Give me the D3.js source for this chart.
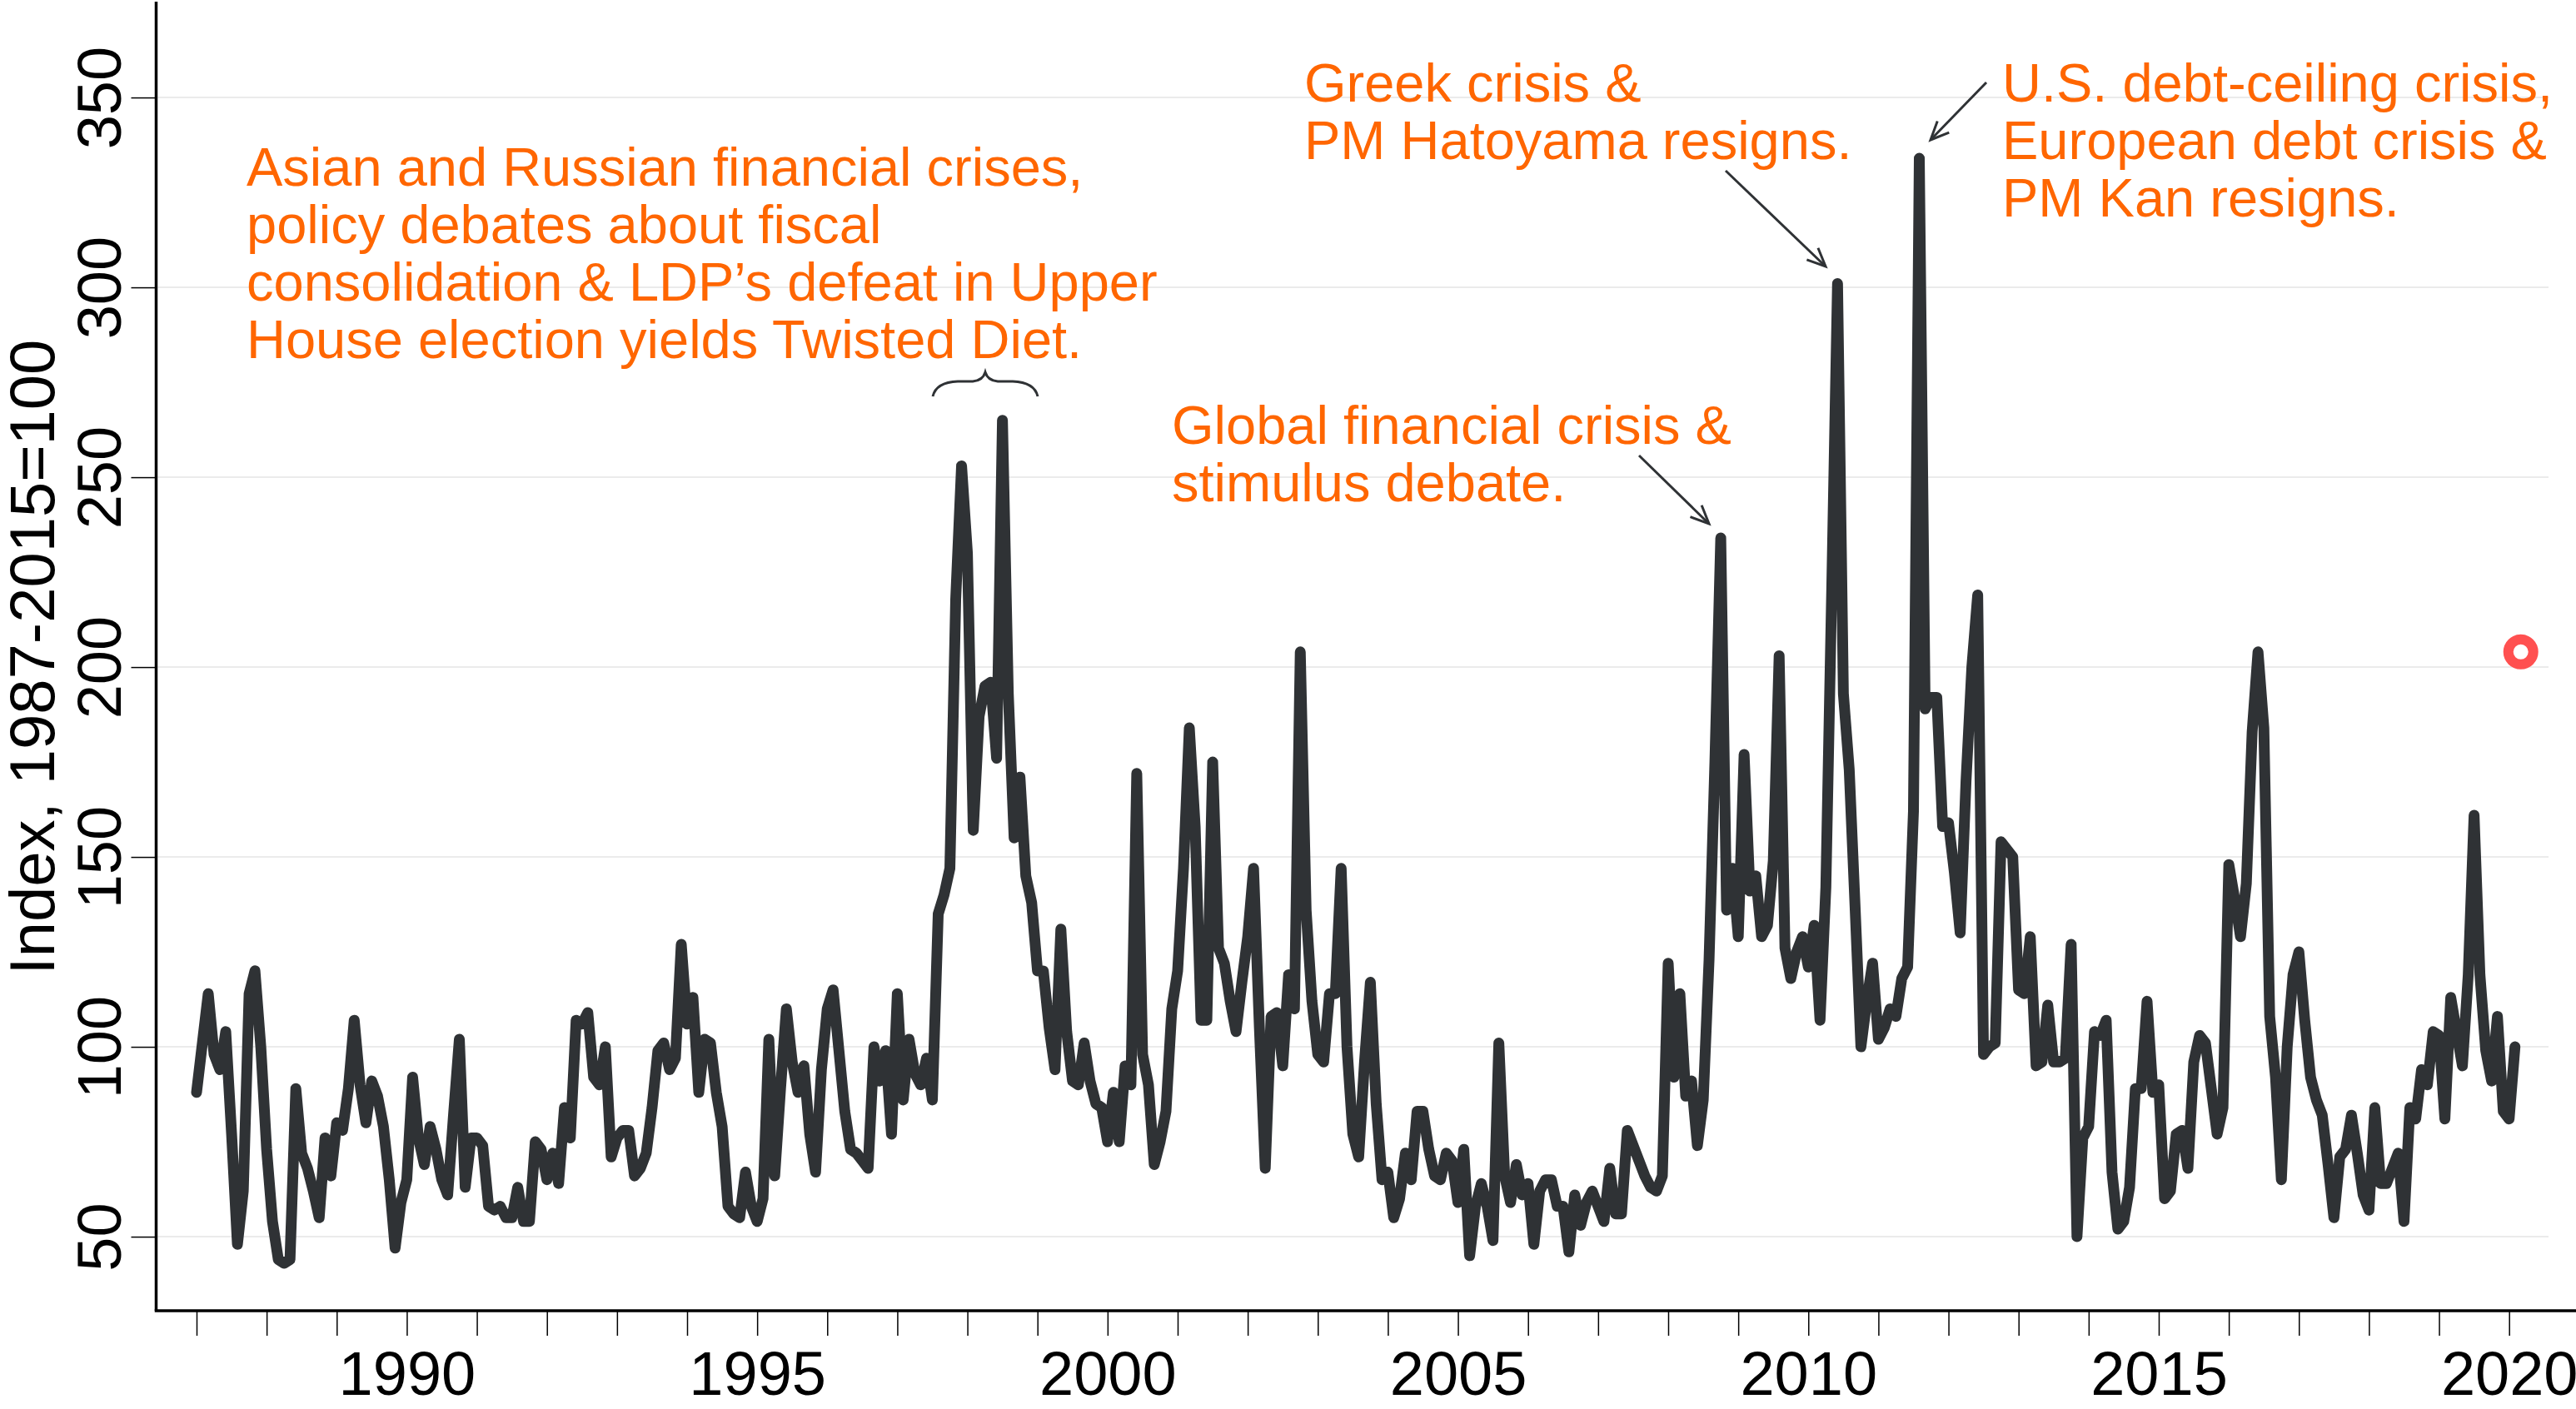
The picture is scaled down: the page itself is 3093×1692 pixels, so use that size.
<!DOCTYPE html>
<html>
<head>
<meta charset="utf-8">
<script src="https://cdn.jsdelivr.net/npm/d3@7"></script>
<style>
  body { margin: 0; background: #fff; }
  svg { display: block; font-family: "Liberation Sans", Arial, sans-serif; }
  .axis text { font-family: "Liberation Sans", Arial, sans-serif; font-size: 74px; fill: #000; }
  .note { font-size: 65px; fill: #ff6600; }
</style>
</head>
<body>
<script>
// monthly policy uncertainty index, one row per year, starting january 1987
var startYear = 1987;
var epu = [
  88, 101, 114, 98, 94, 104, 77, 48, 62, 114, 120, 100,
  73, 54, 44, 43, 44, 89, 72, 68, 62, 55, 76, 66,
  80, 78, 89, 107, 90, 80, 91, 87, 79, 65, 47, 59,
  65, 92, 76, 69, 79, 73, 65, 61, 82, 102, 63, 76,
  76, 74, 58, 57, 58, 55, 55, 63, 54, 54, 75, 73,
  65, 72, 64, 84, 76, 107, 106, 109, 92, 90, 100, 71,
  76, 78, 78, 66, 68, 72, 84, 99, 101, 94, 97, 127,
  106, 113, 88, 102, 101, 88, 79, 58, 56, 55, 67, 58,
  54, 60, 102, 66, 89, 110, 96, 88, 95, 77, 67, 94,
  110, 115, 99, 83, 73, 72, 70, 68, 100, 91, 99, 77,
  114, 86, 102, 93, 90, 97, 86, 135, 140, 147, 218, 253,
  230, 157, 187, 195, 196, 176, 265, 193, 155, 171, 145, 138,
  120, 120, 105, 94, 131, 104, 91, 90, 101, 91, 85, 84,
  75, 88, 75, 95, 90, 172, 98, 90, 69, 75, 83, 110,
  120, 147, 184, 158, 107, 107, 175, 126, 122, 112, 104, 117,
  129, 147, 105, 68, 108, 109, 95, 119, 110, 204, 136, 112,
  98, 96, 114, 114, 147, 100, 77, 71, 96, 117, 85, 65,
  67, 55, 60, 72, 65, 83, 83, 73, 66, 65, 72, 70,
  59, 73, 45, 58, 64, 58, 49, 101, 66, 59, 69, 61,
  64, 48, 62, 65, 65, 58, 58, 46, 61, 53, 59, 62,
  58, 54, 68, 56, 56, 78, 74, 70, 66, 63, 62, 66,
  122, 92, 114, 87, 91, 74, 86, 123, 175, 234, 136, 147,
  129, 177, 141, 145, 129, 132, 149, 203, 126, 118, 125, 129,
  121, 132, 107, 142, 220, 301, 193, 173, 137, 100, 112, 122,
  102, 105, 110, 108, 118, 121, 162, 334, 189, 192, 192, 158,
  159, 146, 130, 170, 200, 219, 98, 100, 101, 154, 152, 150,
  115, 114, 129, 95, 96, 111, 96, 96, 97, 127, 50, 76,
  79, 104, 103, 107, 67, 52, 54, 63, 89, 89, 112, 88,
  90, 60, 62, 77, 78, 68, 96, 103, 101, 89, 77, 84,
  148, 139, 129, 143, 183, 204, 184, 108, 92, 65, 100, 119,
  125, 107, 92, 86, 82, 69, 55, 71, 73, 82, 72, 61,
  57, 84, 64, 64, 68, 72, 54, 84, 81, 94, 90, 104,
  103, 81, 113, 104, 95, 119, 161, 119, 99, 91, 108, 83,
  81, 100
];

// latest reading (march 2020), marked with a ring
var latestDate = 2020 + 2 / 12;
var latestValue = 204;

// axis ticks and labels
var yTicks = [50, 100, 150, 200, 250, 300, 350];
var xTickYears = d3.range(1987, 2021);
var xLabelYears = [1990, 1995, 2000, 2005, 2010, 2015, 2020];
var yTitle = "Index, 1987-2015=100";

// annotation texts
var noteAsia = ["Asian and Russian financial crises,", "policy debates about fiscal",
  "consolidation & LDP\u2019s defeat in Upper", "House election yields Twisted Diet."];
var noteGfc = ["Global financial crisis &", "stimulus debate."];
var noteGreek = ["Greek crisis &", "PM Hatoyama resigns."];
var noteDebt = ["U.S. debt-ceiling crisis,", "European debt crisis &", "PM Kan resigns."];

window.onload = function() {

  // svg characteristics
  var w = 3093;
  var h = 1692;
  var axisX = 187.5;
  var axisY = 1574;
  var lineColor = "#2f3235";

  var svg = d3.select("body")
    .append("svg")
    .attr("width", w)
    .attr("height", h);

  svg.append("rect")
    .attr("width", w)
    .attr("height", h)
    .attr("fill", "#fff");

  // scales
  var x = d3.scaleLinear()
    .domain([1987, 2020])
    .range([236, 3012.7]);

  var y = d3.scaleLinear()
    .domain([30.5, 374.8])
    .range([axisY, 4]);

  // light horizontal grid
  svg.selectAll(".grid")
    .data(yTicks)
    .enter()
    .append("line")
    .attr("class", "grid")
    .attr("x1", axisX + 2)
    .attr("x2", 3060)
    .attr("y1", function(d) { return y(d); })
    .attr("y2", function(d) { return y(d); })
    .attr("stroke", "#ebebeb")
    .attr("stroke-width", 2);

  // the index line
  var series = epu.map(function(v, i) {
    return {date: startYear + i / 12, value: v};
  });

  var line = d3.line()
    .x(function(d) { return x(d.date); })
    .y(function(d) { return y(d.value); });

  svg.append("path")
    .datum(series)
    .attr("d", line)
    .attr("fill", "none")
    .attr("stroke", lineColor)
    .attr("stroke-width", 13)
    .attr("stroke-linejoin", "round")
    .attr("stroke-linecap", "round");

  // latest value ring
  svg.append("circle")
    .attr("cx", x(latestDate))
    .attr("cy", y(latestValue))
    .attr("r", 15)
    .attr("fill", "#fff")
    .attr("stroke", "#ff5050")
    .attr("stroke-width", 12);

  // x axis, a tick every year and a label every five
  var xAxis = d3.axisBottom(x)
    .tickValues(xTickYears)
    .tickSize(30)
    .tickSizeOuter(0)
    .tickFormat(function(d) { return xLabelYears.indexOf(d) >= 0 ? d : ""; });

  var gx = svg.append("g")
    .attr("class", "axis")
    .attr("transform", "translate(0," + axisY + ")")
    .call(xAxis);
  gx.select(".domain").remove();
  gx.selectAll(".tick line").attr("stroke", "#000").attr("stroke-width", 1.5);
  gx.selectAll(".tick text").attr("y", 101).attr("dy", 0);

  // y axis, labels turned upright like the original
  var yAxis = d3.axisLeft(y)
    .tickValues(yTicks)
    .tickSize(30)
    .tickSizeOuter(0);

  var gy = svg.append("g")
    .attr("class", "axis")
    .attr("transform", "translate(" + axisX + ",0)")
    .call(yAxis);
  gy.select(".domain").remove();
  gy.selectAll(".tick line").attr("stroke", "#000").attr("stroke-width", 1.5);
  gy.selectAll(".tick text")
    .attr("x", 0)
    .attr("dy", 0)
    .attr("text-anchor", "middle")
    .attr("transform", "translate(-42.5,0) rotate(-90)");

  // axis lines
  svg.append("line")
    .attr("x1", axisX - 1.75).attr("x2", w)
    .attr("y1", axisY).attr("y2", axisY)
    .attr("stroke", "#000").attr("stroke-width", 3.5);
  svg.append("line")
    .attr("x1", axisX).attr("x2", axisX)
    .attr("y1", 2).attr("y2", axisY)
    .attr("stroke", "#000").attr("stroke-width", 3.5);

  // y axis title
  svg.append("text")
    .attr("transform", "translate(65,789) rotate(-90)")
    .attr("text-anchor", "middle")
    .style("font-size", "76px")
    .attr("fill", "#000")
    .text(yTitle);

  // annotations
  addNote(svg, noteAsia, 296, 223);
  addNote(svg, noteGfc, 1407, 533);
  addNote(svg, noteGreek, 1566, 122);
  addNote(svg, noteDebt, 2404, 122);

  addArrow(svg, 1968, 547, 2052, 629, lineColor);
  addArrow(svg, 2072, 205, 2192, 320, lineColor);
  addArrow(svg, 2385, 99, 2318, 168, lineColor);

  // brace over the 1997-98 peaks
  svg.append("path")
    .attr("d", "M1120,476 Q1124,459 1150,458 L1168,458 Q1180,457 1183,447 " +
               "Q1186,457 1198,458 L1216,458 Q1242,459 1246,476")
    .attr("fill", "none")
    .attr("stroke", lineColor)
    .attr("stroke-width", 3);
};

// multi line orange note
function addNote(svg, lines, x0, y0) {
  var t = svg.append("text")
    .attr("class", "note")
    .attr("x", x0)
    .attr("y", y0);
  lines.forEach(function(s, i) {
    t.append("tspan")
      .attr("x", x0)
      .attr("dy", i === 0 ? 0 : 69)
      .text(s);
  });
}

// thin arrow with an open head
function addArrow(svg, x1, y1, x2, y2, color) {
  var a = Math.atan2(y2 - y1, x2 - x1);
  var len = 24;
  var spread = 0.42;
  svg.append("line")
    .attr("x1", x1).attr("y1", y1)
    .attr("x2", x2).attr("y2", y2)
    .attr("stroke", color)
    .attr("stroke-width", 3);
  svg.append("path")
    .attr("d", "M" + (x2 - len * Math.cos(a - spread)) + "," + (y2 - len * Math.sin(a - spread)) +
               " L" + x2 + "," + y2 +
               " L" + (x2 - len * Math.cos(a + spread)) + "," + (y2 - len * Math.sin(a + spread)))
    .attr("fill", "none")
    .attr("stroke", color)
    .attr("stroke-width", 3);
}
</script>
</body>
</html>
